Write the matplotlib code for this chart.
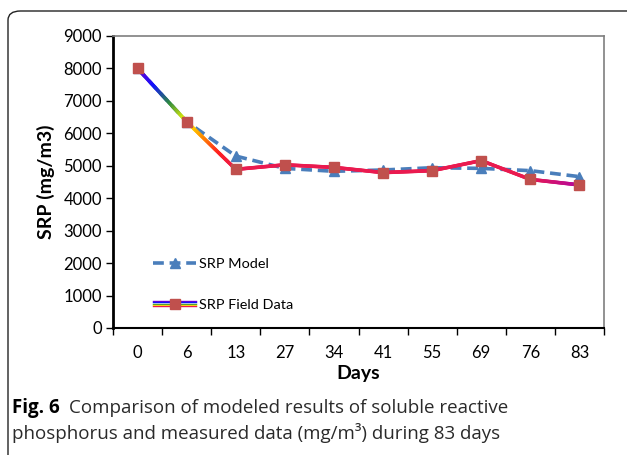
import matplotlib
matplotlib.use("Agg")
import matplotlib.pyplot as plt
import numpy as np
from matplotlib.collections import LineCollection
from matplotlib.colors import LinearSegmentedColormap
from matplotlib.legend_handler import HandlerBase
from matplotlib.lines import Line2D
from matplotlib.patches import FancyBboxPatch

# ---------- data ----------
days = ["0", "6", "13", "27", "34", "41", "55", "69", "76", "83"]
srp_model = [8000, 6360, 5300, 4920, 4830, 4870, 4940, 4920, 4850, 4665]
srp_field = [8000, 6360, 4890, 5030, 4950, 4790, 4850, 5160, 4580, 4410]

MODEL_BLUE = "#4a7ebb"
MARKER_RED = "#c0504d"
CRIMSON = "#ea1a4f"
MAGENTA = "#b4089c"
rainbow = LinearSegmentedColormap.from_list(
    "rb", ["#7a00cc", "#1010ff", "#2e8b3e", "#ffff00", "#ff9000", "#ff2020", CRIMSON])

plt.rcParams["font.family"] = ["Lato", "DejaVu Sans"]

fig = plt.figure(figsize=(6.27, 4.55), dpi=100)

# rounded frame round the figure panel
frame = FancyBboxPatch((8 / 627, -0.2), 1.2, (455 - 11) / 455 + 0.2,
                       boxstyle="round,pad=0,rounding_size=0.02",
                       transform=fig.transFigure, fill=False, lw=1.0,
                       ec="#222222")
fig.patches.append(frame)

ax = fig.add_axes([113 / 627, 1 - 328 / 455, 491 / 627, 292 / 455])
x = np.arange(len(days))


# ---------- field data: gradient line ----------
def gradient_segments(xs, ys, n=40):
    pts, cols = [], []
    for i in range(len(xs) - 1):
        t = np.linspace(0, 1, n + 1)
        sx = xs[i] + (xs[i + 1] - xs[i]) * t
        sy = ys[i] + (ys[i + 1] - ys[i]) * t
        for j in range(n):
            pts.append([(sx[j], sy[j]), (sx[j + 1], sy[j + 1])])
            pos = i + (t[j] + t[j + 1]) / 2
            if pos <= 2:
                cols.append(rainbow(pos / 2))
            elif pos <= 8:
                cols.append(CRIMSON)
            else:
                f = pos - 8
                c0 = np.array(matplotlib.colors.to_rgba(CRIMSON))
                c1 = np.array(matplotlib.colors.to_rgba(MAGENTA))
                cols.append(tuple(c0 + (c1 - c0) * f))
    return pts, cols


ax.plot(x, srp_model, color=MODEL_BLUE, lw=2.6, ls=(0, (3, 1.6)),
        marker="^", ms=7.5, mfc=MODEL_BLUE, mec=MODEL_BLUE, zorder=3)
segs, cols = gradient_segments(x, srp_field)
ax.add_collection(LineCollection(segs, colors=cols, lw=2.6, zorder=4,
                                 capstyle="round"))
ax.plot(x, srp_field, ls="none", marker="s", ms=6.5, mfc=MARKER_RED,
        mec=MARKER_RED, zorder=5)

ax.set_xlim(-0.5, len(days) - 0.5)
ax.set_ylim(0, 9000)
ax.set_yticks(range(0, 9001, 1000))
ax.set_xticks(x)
ax.set_xticklabels(days)
ax.set_xticks(np.arange(-0.5, len(days), 1), minor=True)
ax.tick_params(axis="x", which="major", length=0, pad=12, labelsize=12)
ax.tick_params(axis="x", which="minor", length=5, width=1, direction="out")
ax.tick_params(axis="y", length=5, width=1, direction="out", pad=3,
               labelsize=12)

ax.spines["left"].set_linewidth(2.0)
ax.spines["bottom"].set_linewidth(1.5)
ax.spines["top"].set_color("#7f7f7f")
ax.spines["right"].set_color("#7f7f7f")
ax.spines["top"].set_linewidth(1.2)
ax.spines["right"].set_linewidth(1.2)

ax.set_ylabel("SRP (mg/m3)", fontsize=14, fontweight="bold", labelpad=6)
ax.set_xlabel("Days", fontsize=14, fontweight="bold", labelpad=3)


# ---------- legend ----------
class StripeHandler(HandlerBase):
    def create_artists(self, legend, orig, xd, yd, w, h, fontsize, trans):
        stripes = ["#7a00cc", "#1010ff", "#2e8b3e", "#ffff00", CRIMSON]
        arts = []
        for k, c in enumerate(stripes):
            yy = h / 2 + (2 - k) * 0.9
            arts.append(Line2D([-xd, -xd + w], [yy - yd, yy - yd], color=c,
                               lw=1.0, transform=trans))
        arts.append(Line2D([-xd + w / 2], [h / 2 - yd], marker="s", ms=6.5,
                           mfc=MARKER_RED, mec=MARKER_RED, ls="none",
                           transform=trans))
        return arts


model_h = Line2D([], [], color=MODEL_BLUE, lw=2.6, ls=(0, (3, 1.6)),
                 marker="^", ms=7.5)
field_h = Line2D([], [])
ax.legend([model_h, field_h], ["SRP Model", "SRP Field Data"],
          handler_map={field_h: StripeHandler()},
          loc="lower left", bbox_to_anchor=(0.055, 0.015), frameon=False,
          fontsize=10.4, labelspacing=2.0, handlelength=3.0, handletextpad=0.15)

# ---------- caption ----------
cap_font = ["Open Sans", "DejaVu Sans"]
t1 = fig.text(12 / 627, 1 - 413 / 455, "Fig. 6", fontsize=13.5,
              fontweight="bold", family=cap_font, va="baseline")
fig.canvas.draw()
bb = t1.get_window_extent()
fig.text((bb.x1 + 9) / 627, 1 - 413 / 455,
         "Comparison of modeled results of soluble reactive",
         fontsize=13.5, family=cap_font, va="baseline", color="#2a2a2a")
fig.text(12 / 627, 1 - 439 / 455,
         "phosphorus and measured data (mg/m³) during 83 days",
         fontsize=13.5, family=cap_font, va="baseline", color="#2a2a2a")

fig.savefig("out.png", dpi=100)
